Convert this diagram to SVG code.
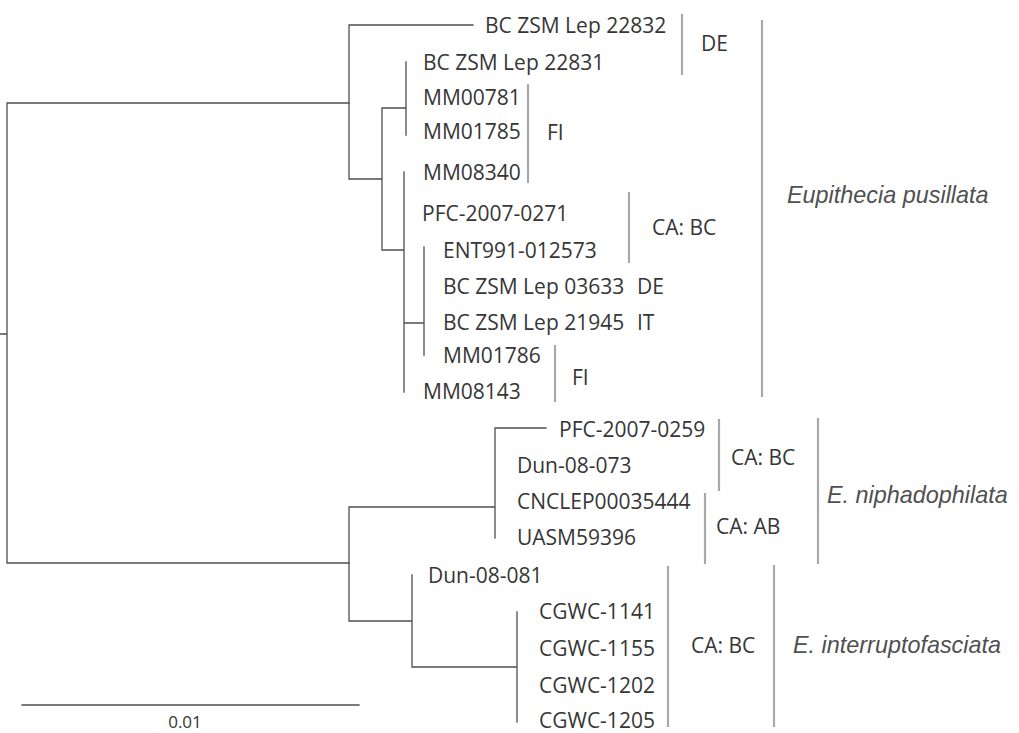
<svg xmlns="http://www.w3.org/2000/svg" width="1019" height="733" viewBox="0 0 1019 733">
<style>
.bg{fill:#ffffff}
.br{stroke:#4f4f4f;stroke-width:1.3;fill:none;stroke-linecap:square}
.bk{stroke:#a8a8a8;stroke-width:2.2;fill:none}
.lb{font-family:"Open Sans","Liberation Sans",sans-serif;font-size:21px;fill:#363636}
.sp{font-family:"Liberation Sans",Arial,sans-serif;font-size:23.4px;font-style:italic;fill:#505050}
.sc{font-family:"Open Sans","Liberation Sans",sans-serif;font-size:17px;fill:#363636}
</style>
<rect class="bg" x="0" y="0" width="1019" height="733"/>
<g id="connectors">
<path class="br" d="M0,334H7M7,103V563M7,103H349M7,563H349"/>
<path class="br" d="M349,25V179M349,25H473M349,179H382M382,108V250M382,108H406M406,62V135M382,250H404M404,172V392M404,323H424M424,247V355"/>
<path class="br" d="M349,507V621M349,507H495M495,428V538M495,428H546M349,621H412M412,575V667M412,667H517M517,612V722"/>
</g>
<g id="tips">
<g id="n-22832"><text class="lb" x="485" y="33">BC ZSM Lep 22832</text></g>
<g id="n-22831"><text class="lb" x="423" y="70">BC ZSM Lep 22831</text></g>
<g id="n-MM00781"><text class="lb" x="423" y="105">MM00781</text></g>
<g id="n-MM01785"><text class="lb" x="423" y="139">MM01785</text></g>
<g id="n-MM08340"><text class="lb" x="423" y="180">MM08340</text></g>
<g id="n-PFC0271"><text class="lb" x="422" y="220.5">PFC-2007-0271</text></g>
<g id="n-ENT991"><text class="lb" x="443" y="257.5">ENT991-012573</text></g>
<g id="n-03633"><text class="lb" x="443" y="294">BC ZSM Lep 03633</text></g>
<g id="n-21945"><text class="lb" x="443" y="330">BC ZSM Lep 21945</text></g>
<g id="n-MM01786"><text class="lb" x="443" y="362.5">MM01786</text></g>
<g id="n-MM08143"><text class="lb" x="423" y="398.5">MM08143</text></g>
<g id="n-PFC0259"><text class="lb" x="559" y="436.5">PFC-2007-0259</text></g>
<g id="n-Dun073"><text class="lb" x="517" y="473">Dun-08-073</text></g>
<g id="n-CNCLEP"><text class="lb" x="517" y="508.5">CNCLEP00035444</text></g>
<g id="n-UASM"><text class="lb" x="517" y="545">UASM59396</text></g>
<g id="n-Dun081"><text class="lb" x="428" y="582.5">Dun-08-081</text></g>
<g id="n-1141"><text class="lb" x="539" y="619">CGWC-1141</text></g>
<g id="n-1155"><text class="lb" x="539" y="655.5">CGWC-1155</text></g>
<g id="n-1202"><text class="lb" x="539" y="693">CGWC-1202</text></g>
<g id="n-1205"><text class="lb" x="539" y="728">CGWC-1205</text></g>
</g>
<g id="regions">
<g id="r-DE1"><path class="bk" d="M682,14V75"/><text class="lb" x="701" y="51">DE</text></g>
<g id="r-FI1"><path class="bk" d="M528,84V183"/><text class="lb" x="547" y="140">FI</text></g>
<g id="r-CABC1"><path class="bk" d="M629,192V263"/><text class="lb" x="652" y="234.5">CA: BC</text></g>
<g id="r-DE2"><text class="lb" x="637" y="294">DE</text></g>
<g id="r-IT"><text class="lb" x="637" y="330">IT</text></g>
<g id="r-FI2"><path class="bk" d="M555,345V402"/><text class="lb" x="572" y="384.5">FI</text></g>
<g id="r-CABC2"><path class="bk" d="M719,419V491"/><text class="lb" x="731" y="464.5">CA: BC</text></g>
<g id="r-CAAB"><path class="bk" d="M705,493V564"/><text class="lb" x="716" y="534">CA: AB</text></g>
<g id="r-CABC3"><path class="bk" d="M668,566V727"/><text class="lb" x="691" y="652.5">CA: BC</text></g>
</g>
<g id="species">
<g id="s-pusillata"><path class="bk" d="M762,20V397"/><text class="sp" x="787" y="203">Eupithecia pusillata</text></g>
<g id="s-niphado"><path class="bk" d="M818,418V564"/><text class="sp" x="827" y="503">E. niphadophilata</text></g>
<g id="s-interrupto"><path class="bk" d="M774,565V727"/><text class="sp" x="793" y="653">E. interruptofasciata</text></g>
</g>
<g id="scale">
<path class="br" d="M22,705H359"/>
<text class="sc" x="185" y="728" text-anchor="middle">0.01</text>
</g>
</svg>
